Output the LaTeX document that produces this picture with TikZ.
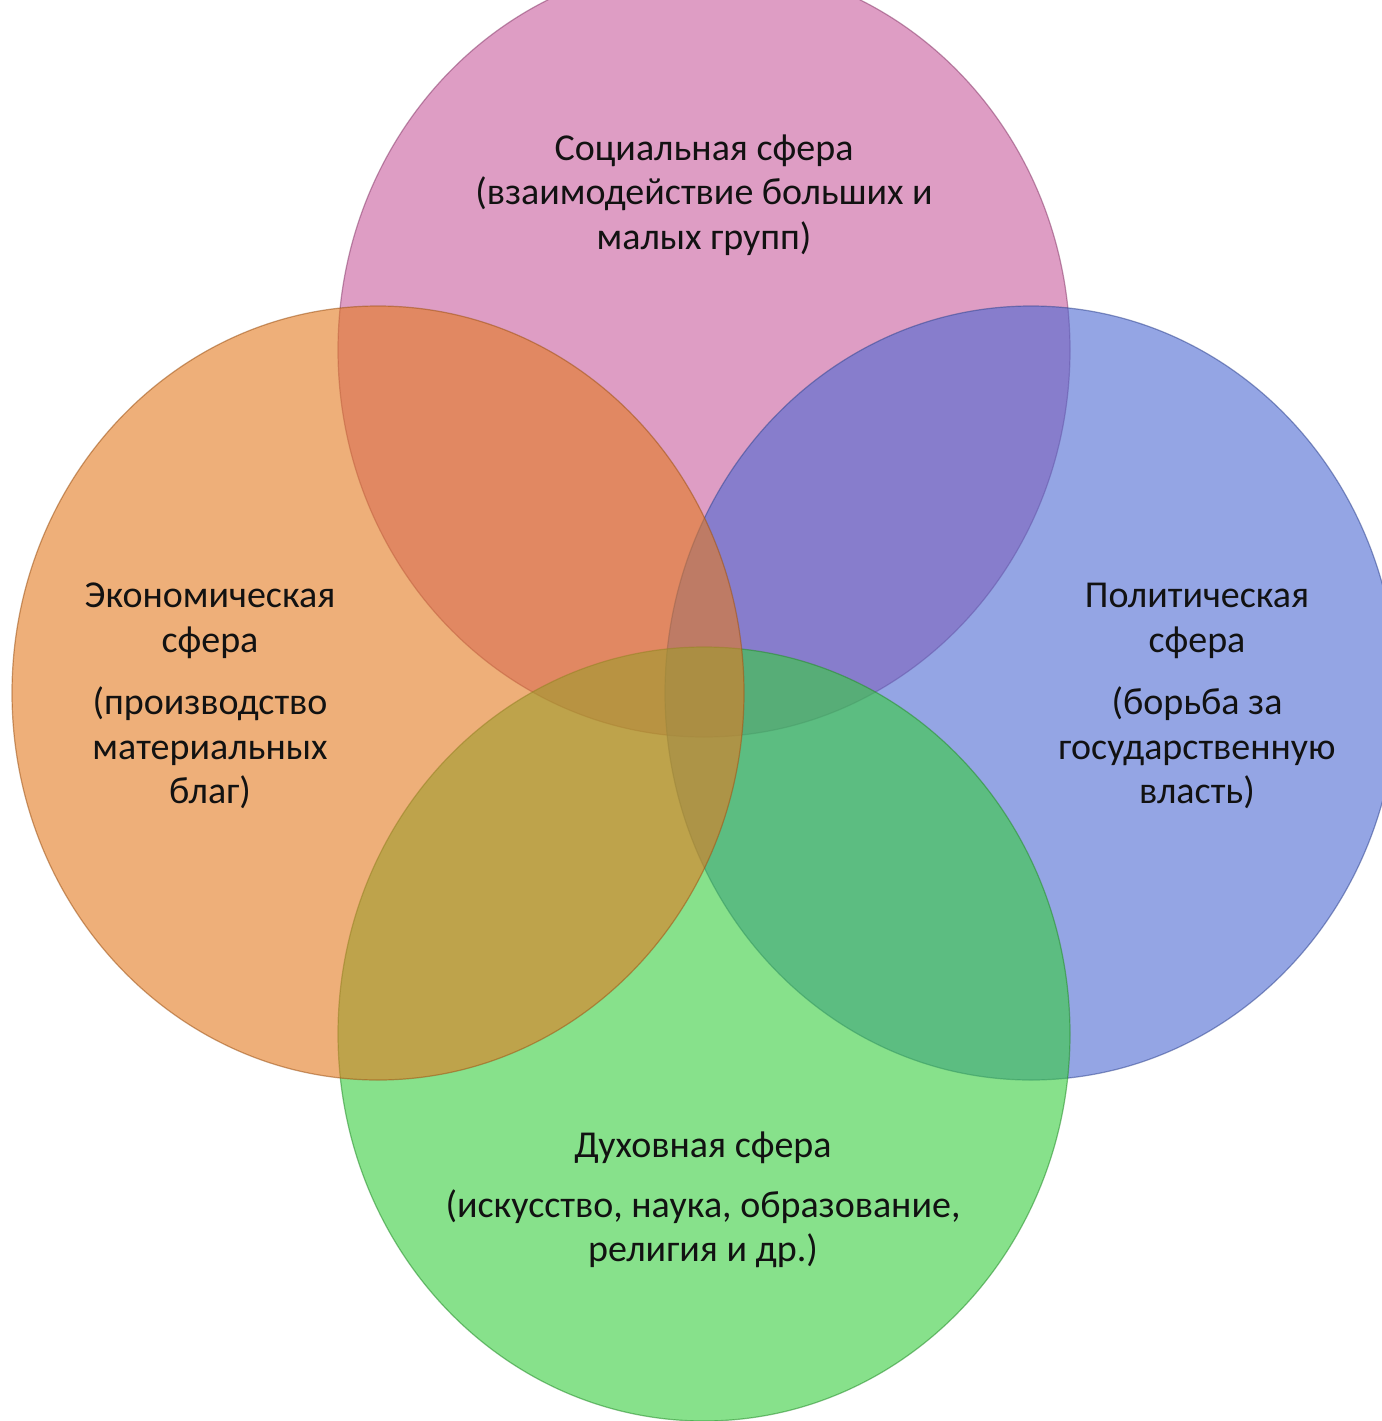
\documentclass[tikz,border=0pt]{standalone}
\usepackage{fontspec}
\setmainfont{Carlito}
\usetikzlibrary{shapes.geometric}
\definecolor{pinkC}{RGB}{200,93,158}
\definecolor{blueC}{RGB}{77,105,210}
\definecolor{greenC}{RGB}{55,205,63}
\definecolor{orangeC}{RGB}{227,122,33}
\definecolor{txt}{RGB}{18,18,18}
\tikzset{
  venn/.style={ellipse, minimum width=732pt, minimum height=774pt, inner sep=0pt,
    fill opacity=0.6, draw opacity=0.55, line width=1.2pt},
  lbl/.style={align=center, text=txt, font=\fontsize{38pt}{44.5pt}\selectfont, inner sep=0pt}
}
\begin{document}
\begin{tikzpicture}[x=1pt,y=-1pt]
\useasboundingbox (0,0) rectangle (1381,1421);
\fill[white] (0,0) rectangle (1381,1421);
\node[venn, fill=pinkC, draw=pinkC!70!black] (soc) at (704,350) {};
\node[venn, fill=blueC, draw=blueC!70!black] (pol) at (1031,693) {};
\node[venn, fill=greenC, draw=greenC!70!black] (duh) at (704,1034) {};
\node[venn, fill=orangeC, draw=orangeC!70!black] (eco) at (378,693) {};
\node[lbl] (tsoc) at (704,195) {Социальная сфера\\(взаимодействие больших и\\малых групп)};
\node[lbl] (teco) at (210,696) {Экономическая\\сфера\\[18pt](производство\\материальных\\благ)};
\node[lbl] (tpol) at (1197,696) {Политическая\\сфера\\[18pt](борьба за\\государственную\\власть)};
\node[lbl] (tduh) at (703,1200) {Духовная сфера\\[15pt](искусство, наука, образование,\\религия и др.)};
\end{tikzpicture}
\end{document}
